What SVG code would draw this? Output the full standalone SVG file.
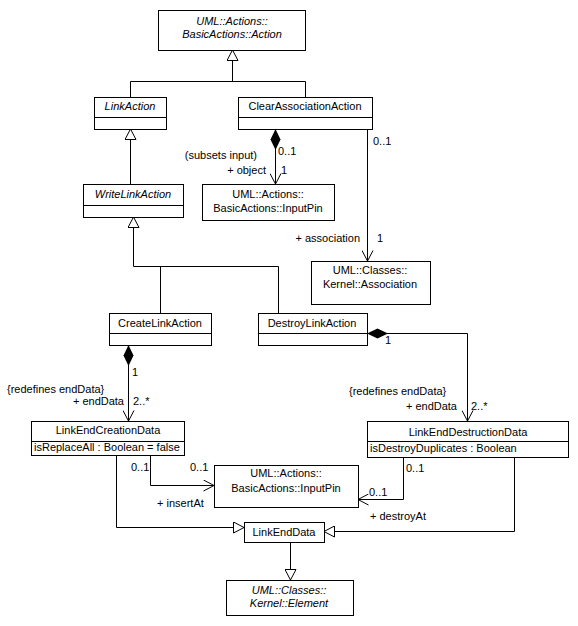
<svg xmlns="http://www.w3.org/2000/svg" width="578" height="626" viewBox="0 0 578 626">
<style>
.b{fill:#fff;stroke:#000;stroke-width:1}
.l{fill:none;stroke:#000;stroke-width:1}
text{font-family:"Liberation Sans",Arial,sans-serif;font-size:11px;fill:#000}
.c{text-anchor:middle}
.e{text-anchor:end}
.i{font-style:italic}
</style>
<defs>
<marker id="tri" markerUnits="userSpaceOnUse" viewBox="0 0 12 12" markerWidth="12" markerHeight="12" refX="11" refY="6" orient="auto">
<path d="M11,6 L0.5,0.5 L0.5,11.5 Z" fill="#fff" stroke="#000" stroke-width="1"/>
</marker>
<marker id="dia" markerUnits="userSpaceOnUse" viewBox="0 0 22 12" markerWidth="22" markerHeight="12" refX="0" refY="6" orient="auto">
<path d="M0,6 L10.5,1 L21,6 L10.5,11 Z" fill="#000"/>
</marker>
<marker id="arr" markerUnits="userSpaceOnUse" viewBox="0 0 12 12" markerWidth="12" markerHeight="12" refX="11" refY="6" orient="auto">
<path d="M0.5,0.5 L11,6 L0.5,11.5" fill="none" stroke="#000" stroke-width="1"/>
</marker>
</defs>
<rect width="578" height="626" fill="#fff"/>
<g id="connectors">
<path class="l" d="M232.5,81.5 V50" marker-end="url(#tri)"/>
<path class="l" d="M130.5,97 V81.5 H305.5 V97"/>
<path class="l" d="M130.5,184 V129" marker-end="url(#tri)"/>
<path class="l" d="M133.5,266.5 V217" marker-end="url(#tri)"/>
<path class="l" d="M133.5,266.5 H278.5 V313"/>
<path class="l" d="M160.5,266.5 V313"/>
<path class="l" d="M116.5,455 V527.5 H244" marker-end="url(#tri)"/>
<path class="l" d="M514.5,458 V531.5 H324" marker-end="url(#tri)"/>
<path class="l" d="M290.5,542 V580" marker-end="url(#tri)"/>
<path class="l" d="M275.5,129 V184" marker-start="url(#dia)" marker-end="url(#arr)"/>
<path class="l" d="M367.5,129 V261" marker-end="url(#arr)"/>
<path class="l" d="M128.5,345 V421" marker-start="url(#dia)" marker-end="url(#arr)"/>
<path class="l" d="M367,333.5 H467.5 V421" marker-start="url(#dia)" marker-end="url(#arr)"/>
<path class="l" d="M150.5,455 V485.5 H214" marker-end="url(#arr)"/>
<path class="l" d="M403.5,458 V499.5 H358" marker-end="url(#arr)"/>
<text x="278" y="155">0..1</text>
<text x="257" y="159" class="e">(subsets input)</text>
<text x="266" y="174" class="e">+ object</text>
<text x="281" y="174">1</text>
<text x="373" y="145">0..1</text>
<text x="360" y="242" class="e">+ association</text>
<text x="377" y="242">1</text>
<text x="132" y="376">1</text>
<text x="7" y="393">{redefines endData}</text>
<text x="124" y="405" class="e">+ endData</text>
<text x="133" y="405">2..*</text>
<text x="385" y="344">1</text>
<text x="349" y="395">{redefines endData}</text>
<text x="457" y="410" class="e">+ endData</text>
<text x="471" y="410">2..*</text>
<text x="131" y="471">0..1</text>
<text x="190" y="471">0..1</text>
<text x="157" y="507">+ insertAt</text>
<text x="406" y="472">0..1</text>
<text x="369" y="496">0..1</text>
<text x="370" y="520">+ destroyAt</text>
</g>
<g id="Action">
<rect class="b" x="158.5" y="10.5" width="147" height="40"/>
<text x="232" y="25" class="c i">UML::Actions::</text>
<text x="232" y="38" class="c i">BasicActions::Action</text>
</g>
<g id="LinkAction">
<rect class="b" x="94.5" y="97.5" width="72" height="32"/>
<path class="l" d="M94.5,117.5 H166.5"/>
<text x="130" y="110" class="c i">LinkAction</text>
</g>
<g id="ClearAssociationAction">
<rect class="b" x="238.5" y="97.5" width="134" height="32"/>
<path class="l" d="M238.5,117.5 H372.5"/>
<text x="305" y="110" class="c">ClearAssociationAction</text>
</g>
<g id="WriteLinkAction">
<rect class="b" x="83.5" y="184.5" width="100" height="33"/>
<path class="l" d="M83.5,205.5 H183.5"/>
<text x="133" y="198" class="c i">WriteLinkAction</text>
</g>
<g id="InputPinObject">
<rect class="b" x="202.5" y="184.5" width="132" height="36"/>
<text x="268" y="198" class="c">UML::Actions::</text>
<text x="268" y="212" class="c">BasicActions::InputPin</text>
</g>
<g id="Association">
<rect class="b" x="311.5" y="261.5" width="119" height="43"/>
<text x="370" y="274" class="c">UML::Classes::</text>
<text x="370" y="288" class="c">Kernel::Association</text>
</g>
<g id="CreateLinkAction">
<rect class="b" x="109.5" y="313.5" width="102" height="32"/>
<path class="l" d="M109.5,333.5 H211.5"/>
<text x="160" y="327" class="c">CreateLinkAction</text>
</g>
<g id="DestroyLinkAction">
<rect class="b" x="258.5" y="313.5" width="109" height="32"/>
<path class="l" d="M258.5,333.5 H367.5"/>
<text x="312" y="327" class="c">DestroyLinkAction</text>
</g>
<g id="LinkEndCreationData">
<rect class="b" x="31.5" y="421.5" width="153" height="34"/>
<path class="l" d="M31.5,441.5 H184.5"/>
<text x="108" y="434" class="c">LinkEndCreationData</text>
<text x="34" y="451">isReplaceAll : Boolean = false</text>
</g>
<g id="LinkEndDestructionData">
<rect class="b" x="367.5" y="421.5" width="201" height="36"/>
<path class="l" d="M367.5,441.5 H568.5"/>
<text x="468" y="436" class="c">LinkEndDestructionData</text>
<text x="370" y="452">isDestroyDuplicates : Boolean</text>
</g>
<g id="InputPinAt">
<rect class="b" x="214.5" y="465.5" width="144" height="42"/>
<text x="286" y="477" class="c">UML::Actions::</text>
<text x="286" y="492" class="c">BasicActions::InputPin</text>
</g>
<g id="LinkEndData">
<rect class="b" x="244.5" y="522.5" width="80" height="20"/>
<text x="284" y="536" class="c">LinkEndData</text>
</g>
<g id="Element">
<rect class="b" x="226.5" y="580.5" width="127" height="35"/>
<text x="289" y="594" class="c i">UML::Classes::</text>
<text x="289" y="607" class="c i">Kernel::Element</text>
</g>
</svg>
